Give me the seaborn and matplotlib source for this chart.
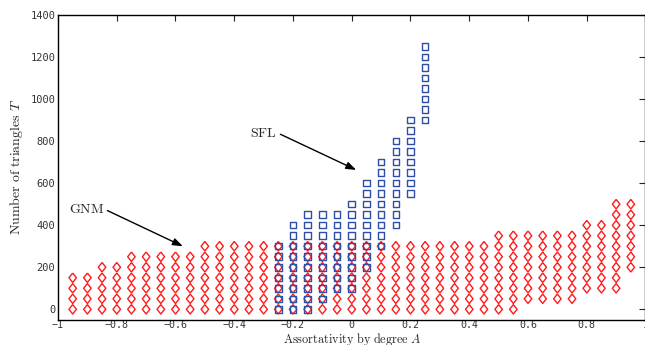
import numpy as np
import pandas as pd
import matplotlib
matplotlib.use("Agg")
import matplotlib.pyplot as plt
import seaborn as sns

# ---- data ----
gnm_A = [-0.95, -0.90, -0.85, -0.80, -0.75, -0.70, -0.65, -0.60, -0.55, -0.50,
         -0.45, -0.40, -0.35, -0.30, -0.25, -0.20, -0.15, -0.10, -0.05, 0.00,
         0.05, 0.10, 0.15, 0.20, 0.25, 0.30, 0.35, 0.40, 0.45, 0.50,
         0.55, 0.60, 0.65, 0.70, 0.75, 0.80, 0.85, 0.90, 0.95]
gnm_Tmin = [0, 0, 0, 0, 0, 0, 0, 0, 0, 0,
            0, 0, 0, 0, 0, 0, 0, 0, 0, 0,
            0, 0, 0, 0, 0, 0, 0, 0, 0, 0,
            0, 50, 50, 50, 50, 100, 100, 100, 200]
gnm_Tmax = [150, 150, 200, 200, 250, 250, 250, 250, 250, 300,
            300, 300, 300, 300, 300, 300, 300, 300, 300, 300,
            300, 300, 300, 300, 300, 300, 300, 300, 300, 350,
            350, 350, 350, 350, 350, 400, 400, 500, 500]

sfl_A = [-0.25, -0.20, -0.15, -0.10, -0.05, 0.00, 0.05, 0.10, 0.15, 0.20, 0.25]
sfl_Tmin = [0, 0, 0, 50, 100, 100, 200, 300, 400, 550, 900]
sfl_Tmax = [300, 400, 450, 450, 450, 500, 600, 700, 800, 900, 1250]
T_step = 50

x_ticks = [-1, -0.8, -0.6, -0.4, -0.2, 0, 0.2, 0.4, 0.6, 0.8, 1]
y_ticks = [0, 200, 400, 600, 800, 1000, 1200, 1400]


def expand(A, tmin, tmax, name):
    rows = []
    for a, lo, hi in zip(A, tmin, tmax):
        for t in range(lo, hi + 1, T_step):
            rows.append((a, t, name))
    return pd.DataFrame(rows, columns=["A", "T", "model"])


gnm = expand(gnm_A, gnm_Tmin, gnm_Tmax, "GNM")
sfl = expand(sfl_A, sfl_Tmin, sfl_Tmax, "SFL")

sns.set_style("white")
plt.rcParams["mathtext.fontset"] = "cm"
plt.rcParams["font.family"] = ["DejaVu Sans"]

W, H = 645, 345
fig = plt.figure(figsize=(W / 100, H / 100), dpi=100)
ax = fig.add_axes([58 / W, (H - 319.8) / H, (645.5 - 58) / W, (319.8 - 15) / H])

tall_diamond = [(0, 1), (0.8, 0), (0, -1), (-0.8, 0), (0, 1)]
sns.scatterplot(data=gnm, x="A", y="T", marker=tall_diamond, s=46, facecolor="none",
                edgecolor="#ff1a1a", linewidth=1.0, ax=ax, legend=False, zorder=3)
sns.scatterplot(data=sfl, x="A", y="T", marker="s", s=22, facecolor="none",
                edgecolor="#2f4ea8", linewidth=1.0, ax=ax, legend=False, zorder=4)

ax.set_xlim(-1, 1)
ax.set_ylim(-50, 1400)
ax.set_xticks(x_ticks)
ax.set_xticklabels(["\u22121" if v == -1 else ("1" if v == 1 else ("0" if v == 0 else f"{v:.1f}".replace("-", "\u2212"))) for v in x_ticks])
ax.set_yticks(y_ticks)
ax.set_yticklabels([str(v) for v in y_ticks])
ax.tick_params(direction="in", length=4, width=0.8, top=True, right=True,
               labelsize=7.5, colors="#222222", pad=2)
ax.tick_params(axis="x", pad=0.5, labelsize=7.2)
for lab in ax.get_xticklabels() + ax.get_yticklabels():
    lab.set_family("DejaVu Sans Mono")
    lab.set_color("#333333")
for sp in ax.spines.values():
    sp.set_visible(True)
    sp.set_color("black")
    sp.set_linewidth(1.0)

ax.set_xlabel(r"$\mathrm{Assortativity\ by\ degree}\ A$", fontsize=8.8)
ax.xaxis.set_label_coords(0.5, -0.036)
ax.set_ylabel(r"$\mathrm{Number\ of\ triangles}\ T$", fontsize=10, labelpad=4)

arrow = dict(arrowstyle="-|>,head_length=0.6,head_width=0.22", color="black",
             lw=1.0, shrinkA=0, shrinkB=0, relpos=(1.0, 0.5), mutation_scale=10)
ax.annotate(r"$\mathrm{GNM}$", xy=(-0.575, 300), xytext=(-0.843, 477),
            ha="right", va="center", fontsize=10, arrowprops=arrow)
ax.annotate(r"$\mathrm{SFL}$", xy=(0.015, 663), xytext=(-0.254, 840),
            ha="right", va="center", fontsize=10, arrowprops=arrow)

fig.savefig("out.png", dpi=100)
